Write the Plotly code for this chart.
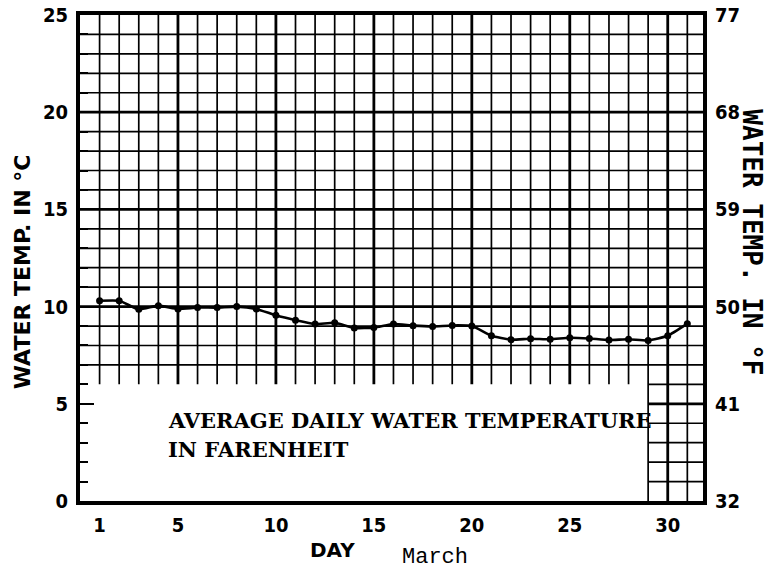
import plotly.graph_objects as go

# ---- data ----
days = list(range(1, 32))
temp_c = [10.3, 10.3, 9.86, 10.05, 9.88, 9.95, 9.95, 10.0, 9.88, 9.55,
          9.3, 9.1, 9.17, 8.9, 8.92, 9.1, 9.02, 8.98, 9.03, 9.0,
          8.5, 8.3, 8.35, 8.32, 8.4, 8.36, 8.28, 8.32, 8.26, 8.5, 9.12]
x_ticks = [1, 5, 10, 15, 20, 25, 30]
c_ticks = [0, 5, 10, 15, 20, 25]
f_ticks = [32, 41, 50, 59, 68, 77]

X_MAX = 31.8
Y_MAX = 25
BOX_DAY = 29     # right edge of the blank label box
BOX_TOP = 6      # top of the blank label box (deg C)

tickfont = dict(family="DejaVu Sans Condensed, DejaVu Sans", size=20, color="black", weight="bold")

fig = go.Figure()
fig.add_trace(go.Scatter(
    x=days, y=temp_c, mode="lines+markers",
    line=dict(color="black", width=2.6, shape="spline", smoothing=0.5),
    marker=dict(color="black", size=7),
    showlegend=False, hoverinfo="skip"))
# invisible trace for the Fahrenheit axis
fig.add_trace(go.Scatter(x=[None], y=[None], yaxis="y2", showlegend=False, hoverinfo="skip"))

# ---- grid paper ----
for d in range(1, 32):
    thick = d % 5 == 0
    y0 = 0 if d >= BOX_DAY else BOX_TOP
    fig.add_shape(type="line", xref="x", yref="y", x0=d, x1=d, y0=y0, y1=Y_MAX,
                  line=dict(color="black", width=2.8 if thick else 1.7), layer="below")
for t in range(1, Y_MAX):
    thick = t % 5 == 0
    x0 = 0 if t > BOX_TOP else BOX_DAY
    fig.add_shape(type="line", xref="x", yref="y", x0=x0, x1=X_MAX, y0=t, y1=t,
                  line=dict(color="black", width=2.8 if thick else 1.7), layer="below")

fig.update_layout(
    width=769, height=575,
    margin=dict(l=80, r=66, t=15, b=74, autoexpand=False),
    paper_bgcolor="white", plot_bgcolor="white",
    xaxis=dict(range=[0, X_MAX], tickmode="array", tickvals=x_ticks, automargin=False,
               showgrid=False, zeroline=False, showline=True, linewidth=4,
               linecolor="black", mirror=True, ticks="", tickfont=tickfont,
               ticklabelstandoff=3),
    yaxis=dict(range=[0, Y_MAX], tickmode="array", tickvals=c_ticks, automargin=False,
               showgrid=False, zeroline=False, showline=True, linewidth=4,
               linecolor="black", ticks="inside", ticklen=14, tickwidth=2,
               tickcolor="black", tickfont=tickfont, ticklabelstandoff=4,
               minor=dict(dtick=1, tick0=0, ticks="inside", ticklen=8,
                          tickwidth=1.5, tickcolor="black", showgrid=False)),
    yaxis2=dict(range=[32, 32 + 1.8 * Y_MAX], overlaying="y", side="right",
                tickmode="array", tickvals=f_ticks, showgrid=False, automargin=False,
                zeroline=False, showline=True, linewidth=4, linecolor="black",
                ticks="", tickfont=tickfont, ticklabelstandoff=4),
)

# ---- texts ----
boxfont = dict(family="DejaVu Serif", size=21, color="black", weight="bold")
fig.add_annotation(text="AVERAGE DAILY WATER TEMPERATURE", xref="x", yref="y",
                   x=4.4, y=4.15, xanchor="left", yanchor="middle", showarrow=False,
                   font=boxfont)
fig.add_annotation(text="IN FARENHEIT", xref="x", yref="y",
                   x=4.4, y=2.65, xanchor="left", yanchor="middle", showarrow=False,
                   font=boxfont)
fig.add_annotation(text="WATER TEMP. IN °C", xref="paper", yref="paper",
                   x=-0.093, y=0.471, textangle=-90, showarrow=False,
                   xanchor="center", yanchor="middle",
                   font=dict(family="DejaVu Sans", size=22, color="black", weight="bold"))
fig.add_annotation(text="WATER TEMP. IN °F", xref="paper", yref="paper",
                   x=1.078, y=0.533, textangle=90, showarrow=False,
                   xanchor="center", yanchor="middle",
                   font=dict(family="DejaVu Sans Mono", size=26, color="black", weight="bold"))
fig.add_annotation(text="DAY", xref="paper", yref="paper",
                   x=0.4045, y=-0.1008, showarrow=False, xanchor="center", yanchor="middle",
                   font=dict(family="DejaVu Sans", size=20, color="black", weight="bold"))
fig.add_annotation(text="March", xref="paper", yref="paper",
                   x=0.570, y=-0.117, showarrow=False, xanchor="center", yanchor="middle",
                   font=dict(family="Liberation Mono", size=22, color="black"))

fig.write_html("out.html", config={"displayModeBar": False},
               post_script="document.body.style.margin='0';")
